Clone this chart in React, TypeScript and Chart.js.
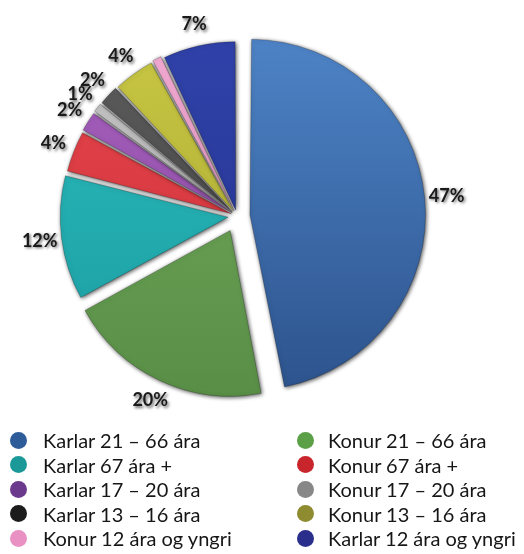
import React, { useEffect, useRef } from "react";
import { Chart, registerables } from "chart.js";

Chart.register(...registerables);

// ---- data ----
const categories = [
  "Karlar 21 – 66 ára",
  "Konur 21 – 66 ára",
  "Karlar 67 ára +",
  "Konur 67 ára +",
  "Karlar 17 – 20 ára",
  "Konur 17 – 20 ára",
  "Karlar 13 – 16 ára",
  "Konur 13 – 16 ára",
  "Konur 12 ára og yngri",
  "Karlar 12 ára og yngri",
];
const values = [47, 20, 12, 4, 2, 1, 2, 4, 1, 7];
const valueLabels = ["47%", "20%", "12%", "4%", "2%", "1%", "2%", "4%", "", "7%"];

// ---- styles ----
const sliceLight = ["#4d83c6", "#72ab5c", "#2bbcbd", "#e6464d", "#a660bd", "#c9c9c9", "#5e5e5e", "#c8c642", "#f2aad2", "#3042aa"];
const sliceDark = ["#2c528b", "#578c45", "#1a9ba0", "#cc2f36", "#8748a0", "#9e9e9e", "#3a3a3a", "#a8a632", "#de8ebf", "#24328c"];
const legendColors = ["#2d5c99", "#5b9f47", "#1b9999", "#c8262c", "#6b3a8c", "#878787", "#1c1c1c", "#8e8b30", "#e991c3", "#2b2f8c"];
const sliceOffsets = [52, 64, 36, 24, 24, 24, 24, 24, 24, 24];

const sliceShadow = {
  id: "sliceShadow",
  beforeDatasetsDraw(chart: any) {
    const c = chart.ctx;
    c.save();
    c.shadowColor = "rgba(0,0,0,0.7)";
    c.shadowBlur = 4;
    c.shadowOffsetX = 1;
    c.shadowOffsetY = 1;
  },
  afterDatasetsDraw(chart: any) {
    chart.ctx.restore();
  },
};

const outLabels = {
  id: "outLabels",
  afterDraw(chart: any) {
    const c = chart.ctx;
    const meta = chart.getDatasetMeta(0);
    c.save();
    c.font = "bold 18px Lato";
    c.textAlign = "center";
    c.textBaseline = "middle";
    c.fillStyle = "#1a1a1a";
    c.shadowColor = "rgba(0,0,0,0.6)";
    c.shadowBlur = 3;
    c.shadowOffsetX = 1.5;
    c.shadowOffsetY = 1.5;
    meta.data.forEach((arc: any, i: number) => {
      const text = valueLabels[i];
      if (!text) return;
      const p = arc.getProps(["x", "y", "startAngle", "endAngle", "outerRadius", "circumference"], true);
      const mid = (p.startAngle + p.endAngle) / 2;
      const t = (arc.options.offset || 0) / 4;
      const extra = t * (1 - Math.sin(Math.min(Math.PI, p.circumference)));
      const d = p.outerRadius + t + extra + 22;
      c.fillText(text, p.x + Math.cos(mid) * d, p.y + Math.sin(mid) * d);
    });
    c.restore();
  },
};

function PieChart() {
  const ref = useRef<HTMLCanvasElement | null>(null);
  useEffect(() => {
    if (!ref.current) return;
    const chart = new Chart(ref.current, {
      type: "pie",
      data: {
        labels: categories,
        datasets: [
          {
            data: values,
            backgroundColor: (ctx: any) => {
              const i = ctx.dataIndex;
              const area = ctx.chart.chartArea;
              if (!area || i === undefined) return sliceLight[i || 0];
              const g = ctx.chart.ctx.createLinearGradient(0, area.top + 40, 0, area.bottom - 30);
              g.addColorStop(0, sliceLight[i]);
              g.addColorStop(1, sliceDark[i]);
              return g;
            },
            borderColor: "rgba(0,0,0,0.35)",
            borderWidth: 0.6,
            offset: sliceOffsets,
            clip: false,
          } as any,
        ],
      },
      options: {
        responsive: false,
        animation: false,
        radius: 165,
        layout: { padding: { left: 0, right: 50, top: 0, bottom: 0 } },
        plugins: {
          legend: { display: false },
          tooltip: { enabled: false },
        },
      } as any,
      plugins: [sliceShadow, outLabels],
    });
    return () => chart.destroy();
  }, []);
  return <canvas ref={ref} width={524} height={432} style={{ position: "absolute", left: 0, top: 0 }} />;
}

export default function App() {
  const rows = [0, 1, 2, 3, 4];
  return (
    <div style={{ position: "fixed", left: 0, top: 0, width: 524, height: 554, background: "#fff", overflow: "hidden" }}>
      <PieChart />
      {rows.map((r) =>
        [0, 1].map((col) => {
          const i = r * 2 + col;
          const cy = 440 + r * 24.5;
          const circleX = col === 0 ? 18 : 305;
          const textX = col === 0 ? 43 : 328;
          return (
            <React.Fragment key={i}>
              <div
                style={{
                  position: "absolute",
                  left: circleX - 8.5,
                  top: cy - 8.5,
                  width: 17,
                  height: 17,
                  borderRadius: "50%",
                  background: legendColors[i],
                }}
              />
              <div
                style={{
                  position: "absolute",
                  left: textX,
                  top: cy - 13,
                  height: 26,
                  lineHeight: "26px",
                  fontFamily: "Lato, sans-serif",
                  fontSize: 20,
                  color: "#161616",
                  whiteSpace: "nowrap",
                }}
              >
                {categories[i]}
              </div>
            </React.Fragment>
          );
        })
      )}
    </div>
  );
}
